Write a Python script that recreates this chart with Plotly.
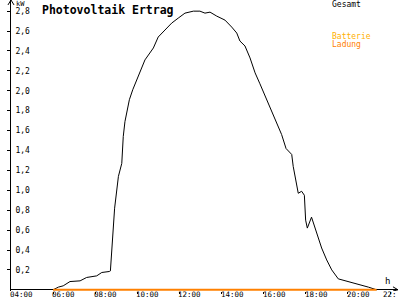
import plotly.graph_objects as go

# Time of day in decimal hours, output in kW
gesamt_hours = [6.0, 6.25, 6.48, 6.80, 7.28, 7.59, 8.07, 8.31, 8.67, 8.72,
                8.92, 8.99, 9.10, 9.26, 9.33, 9.41, 9.62, 9.78, 10.04, 10.36,
                10.76, 10.99, 11.31, 11.63, 11.94, 12.26, 12.66, 12.97, 13.21,
                13.45, 13.77, 14.16, 14.48, 14.72, 14.87, 15.11, 15.35, 15.59,
                15.82, 16.14, 16.45, 16.69, 16.85, 17.06, 17.33, 17.40, 17.53,
                17.64, 17.80, 17.93, 17.99, 18.07, 18.27, 18.52, 18.75, 18.99,
                19.23, 19.54, 19.86, 20.18, 20.57, 20.97, 21.36]
gesamt_kw = [0.0, 0.027, 0.04, 0.083, 0.09, 0.124, 0.14, 0.174, 0.184, 0.19,
             0.82, 0.94, 1.14, 1.27, 1.54, 1.69, 1.91, 2.01, 2.14, 2.31,
             2.43, 2.54, 2.61, 2.68, 2.73, 2.78, 2.80, 2.80, 2.78,
             2.79, 2.75, 2.71, 2.64, 2.58, 2.50, 2.45, 2.33, 2.18,
             2.07, 1.91, 1.76, 1.64, 1.56, 1.42, 1.36, 1.24, 1.10,
             0.97, 0.99, 0.95, 0.70, 0.62, 0.73, 0.57, 0.42, 0.30,
             0.20, 0.11, 0.093, 0.073, 0.05, 0.027, 0.0]

ladung_hours = [6.0, 21.36]
ladung_kw = [0.0, 0.0]

x_tickvals = [4, 6, 8, 10, 12, 14, 16, 18, 20, 22]
x_ticktext = ["04:00", "06:00", "08:00", "10:00", "12:00", "14:00", "16:00",
              "18:00", "20:00", "22:"]
y_tickvals = [0.2, 0.4, 0.6, 0.8, 1.0, 1.2, 1.4, 1.6, 1.8, 2.0, 2.2, 2.4, 2.6, 2.8]
y_ticktext = ["0,2", "0,4", "0,6", "0,8", "1,0", "1,2", "1,4", "1,6", "1,8",
              "2,0", "2,2", "2,4", "2,6", "2,8"]

MONO = "DejaVu Sans Mono"

fig = go.Figure()
fig.add_trace(go.Scatter(x=gesamt_hours, y=gesamt_kw, mode="lines",
                         line=dict(color="black", width=1), name="Gesamt"))
fig.add_trace(go.Scatter(x=ladung_hours, y=ladung_kw, mode="lines",
                         line=dict(color="#FF8000", width=2), name="Ladung"))

fig.update_layout(
    width=400, height=300,
    margin=dict(l=11, r=2, t=0, b=8.8, autoexpand=False),
    paper_bgcolor="white", plot_bgcolor="white",
    showlegend=False,
    font=dict(family=MONO, size=8, color="black"),
    xaxis=dict(range=[4, 22.376], tickvals=x_tickvals, showticklabels=False,
               showgrid=False, zeroline=False, showline=False,
               ticks="outside", ticklen=2, tickcolor="black",
               automargin=False),
    yaxis=dict(range=[-0.012, 2.912], tickvals=y_tickvals, ticktext=y_ticktext,
               showgrid=False, zeroline=True, zerolinecolor="black",
               zerolinewidth=1, showline=True, linecolor="black",
               linewidth=1, ticks="outside", ticklen=3, tickcolor="black",
               ticklabelposition="inside", ticklabelstandoff=3,
               automargin=False,
               tickfont=dict(family=MONO, size=8, color="black")),
)

ann = [
    dict(text="<b>Photovoltaik Ertrag</b>", x=0.075, y=0.966, xanchor="left",
         yanchor="middle", font=dict(family=MONO, size=11.5, color="black")),
    dict(text="kW", x=0.008, y=0.985, xanchor="left", yanchor="middle",
         font=dict(family=MONO, size=7, color="black")),
    dict(text="Gesamt", x=0.824, y=0.986, xanchor="left", yanchor="middle",
         font=dict(family=MONO, size=8, color="black")),
    dict(text="Batterie", x=0.824, y=0.876, xanchor="left", yanchor="middle",
         font=dict(family=MONO, size=8, color="#FFB000")),
    dict(text="Ladung", x=0.824, y=0.848, xanchor="left", yanchor="middle",
         font=dict(family=MONO, size=8, color="#FF8000")),
    dict(text="h", x=0.961, y=0.035, xanchor="left", yanchor="middle",
         font=dict(family=MONO, size=9, color="black")),
]
for a in ann:
    a.update(xref="paper", yref="paper", showarrow=False)

# x tick labels, left-aligned at their ticks below the axis;
# the last one is kept inside the right page edge
last = len(x_tickvals) - 1
for i, (v, t) in enumerate(zip(x_tickvals, x_ticktext)):
    ann.append(dict(text=t, x=v, xref="x", y=-0.0302, yref="paper",
                    xanchor="right" if i == last else "left",
                    yanchor="bottom", xshift=8 if i == last else -2,
                    borderpad=0, showarrow=False,
                    font=dict(family=MONO, size=7.5, color="black")))
fig.update_layout(annotations=ann)

# axis arrowheads (y: top of y axis; x: right end of zero line)
arrow_shapes = [
    dict(xref="paper", yref="paper", x0=0.0, y0=1.0, x1=-0.0078, y1=0.983),
    dict(xref="paper", yref="paper", x0=0.0, y0=1.0, x1=0.0078, y1=0.983),
    dict(xref="paper", yref="y", x0=1.0, y0=0.0, x1=0.987, y1=0.03),
    dict(xref="paper", yref="y", x0=1.0, y0=0.0, x1=0.987, y1=-0.012),
]
for s in arrow_shapes:
    fig.add_shape(type="line", line=dict(color="black", width=1), **s)

fig.write_html("out.html")
